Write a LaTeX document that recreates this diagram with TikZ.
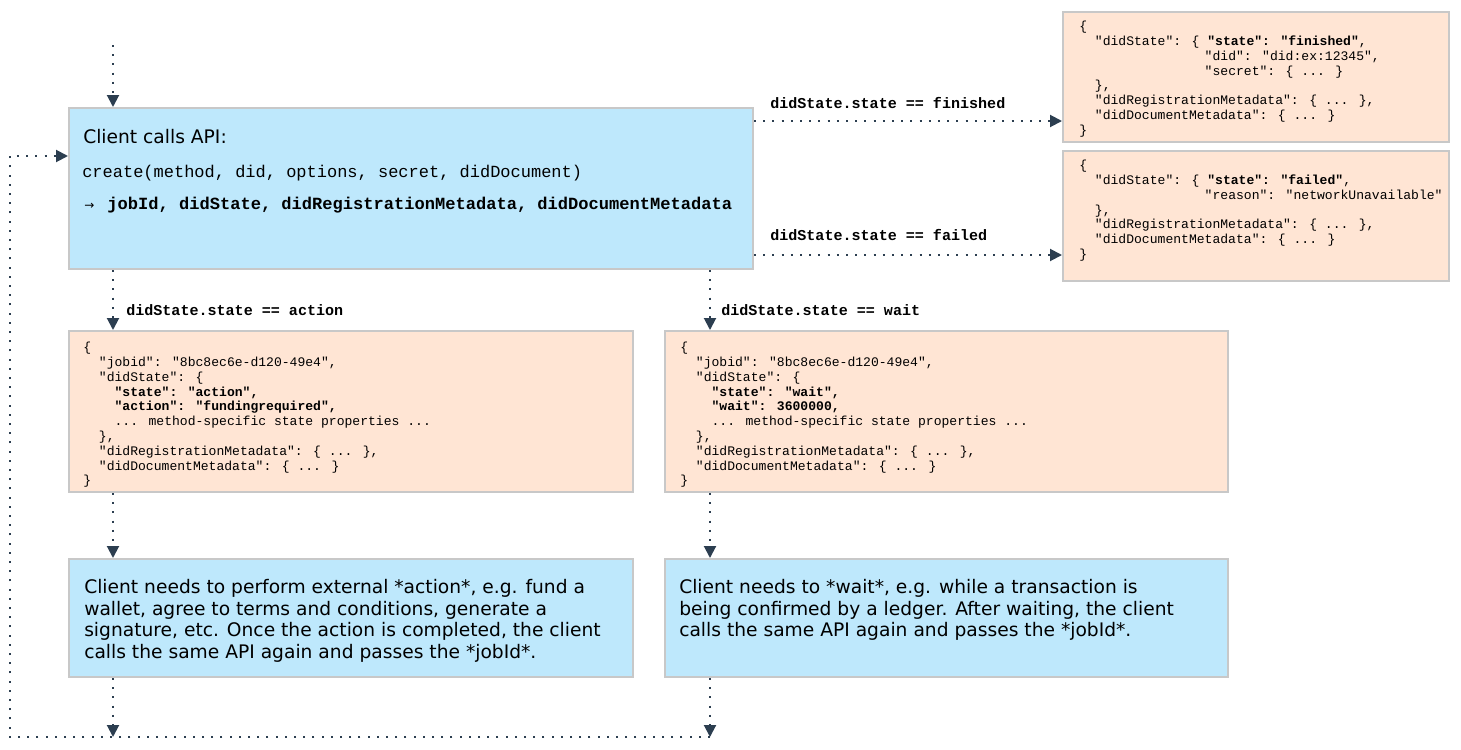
\documentclass[tikz,border=0pt]{standalone}
\usepackage{fontspec}
\setmainfont{DejaVu Sans}
\newfontfamily\mono{Liberation Mono}
\usetikzlibrary{arrows.meta,fit}
\definecolor{bluefill}{HTML}{BEE8FC}
\definecolor{peach}{HTML}{FFE5D4}
\definecolor{edgegray}{HTML}{C8C8C8}
\definecolor{ink}{HTML}{2C3E50}
\newcommand{\jind}{\hphantom{xxxxxxxxxxxxxxxx}}
\begin{document}
\begin{tikzpicture}[x=0.75pt,y=-0.75pt,
  box/.style={draw=edgegray, line width=1.5pt, inner sep=0pt, rectangle},
  bluebox/.style={box, fill=bluefill},
  peachbox/.style={box, fill=peach},
  json/.style={anchor=north west, inner sep=0pt, align=left, font=\mono\fontsize{9.8}{11.1}\selectfont},
  condlabel/.style={anchor=base west, inner sep=0pt, font=\mono\bfseries\fontsize{11.3}{13}\selectfont},
  prose/.style={anchor=north west, inner sep=0pt, align=left, font=\fontsize{14}{16.3}\selectfont},
  dotline/.style={draw=ink, line width=1.5pt, dash pattern=on 1.5pt off 5.4pt},
  flow/.style={dotline, -{Triangle[length=9pt,width=9pt]}}
]
\fill[white] (0,0) rectangle (1461,750);
\useasboundingbox (0,0) rectangle (1461,750);

% boxes
\node[bluebox, fit={(69,108)(753,269)}] (main) {};
\node[peachbox, fit={(1063,12)(1449,142)}] (finished) {};
\node[peachbox, fit={(1063,151)(1449,281)}] (failed) {};
\node[peachbox, fit={(69,331)(633,492)}] (actjson) {};
\node[peachbox, fit={(665,331)(1228,492)}] (waitjson) {};
\node[bluebox, fit={(69,559)(633,677)}] (acttext) {};
\node[bluebox, fit={(665,559)(1228,677)}] (waittext) {};

% main box text
\node[anchor=base west, inner sep=0pt, font=\fontsize{14}{16}\selectfont] (t1) at (83,143) {Client calls API:};
\node[anchor=base west, inner sep=0pt, font=\mono\fontsize{12.75}{14}\selectfont] (t2) at (82,177) {create(method, did, options, secret, didDocument)};
\node[anchor=base west, inner sep=0pt, font=\mono\bfseries\fontsize{12.8}{14}\selectfont] (t3) at (84,209) {{\normalfont\fontsize{9}{10}\selectfont →}\ \,jobId, didState, didRegistrationMetadata, didDocumentMetadata};

% JSON texts
\node[json] (fincode) at (1079,21) {\{\\
\ \ "didState": \{ \textbf{"state": "finished"},\\
\jind"did": "did:ex:12345",\\
\jind"secret": \{ ... \}\\
\ \ \},\\
\ \ "didRegistrationMetadata": \{ ... \},\\
\ \ "didDocumentMetadata": \{ ... \}\\
\}};

\node[json] (failcode) at (1079,160) {\{\\
\ \ "didState": \{ \textbf{"state": "failed"},\\
\jind"reason": "networkUnavailable"\\
\ \ \},\\
\ \ "didRegistrationMetadata": \{ ... \},\\
\ \ "didDocumentMetadata": \{ ... \}\\
\}};

\node[json] (actcode) at (83,342) {\{\\
\ \ "jobid": "8bc8ec6e-d120-49e4",\\
\ \ "didState": \{\\
\ \ \ \ \textbf{"state": "action",}\\
\ \ \ \ \textbf{"action": "fundingrequired",}\\
\ \ \ \ ... method-specific state properties ...\\
\ \ \},\\
\ \ "didRegistrationMetadata": \{ ... \},\\
\ \ "didDocumentMetadata": \{ ... \}\\
\}};

\node[json] (waitcode) at (680,342) {\{\\
\ \ "jobid": "8bc8ec6e-d120-49e4",\\
\ \ "didState": \{\\
\ \ \ \ \textbf{"state": "wait",}\\
\ \ \ \ \textbf{"wait": 3600000,}\\
\ \ \ \ ... method-specific state properties ...\\
\ \ \},\\
\ \ "didRegistrationMetadata": \{ ... \},\\
\ \ "didDocumentMetadata": \{ ... \}\\
\}};

% prose texts
\node[prose] (actprose) at (84,579) {Client needs to perform external *action*, e.g. fund a\\
wallet, agree to terms and conditions, generate a\\
signature, etc. Once the action is completed, the client\\
calls the same API again and passes the *jobId*.};
\node[prose] (waitprose) at (679,579) {Client needs to *wait*, e.g. while a transaction is\\
being confirmed by a ledger. After waiting, the client\\
calls the same API again and passes the *jobId*.};

% labels
\node[condlabel] (lfin) at (770,108) {didState.state == finished};
\node[condlabel] (lfail) at (770,240) {didState.state == failed};
\node[condlabel] (lact) at (126,315) {didState.state == action};
\node[condlabel] (lwait) at (721,315) {didState.state == wait};

% helper coordinates
\coordinate (start) at (113,45);
\coordinate (x113) at (113,0);
\coordinate (x710) at (710,0);
\coordinate (y121) at (0,121);
\coordinate (y255) at (0,255);
\coordinate (y156) at (0,156);
\coordinate (bR) at (710,737);
\coordinate (bL) at (10,737);

% connectors
\draw[flow] (start) -- (main.north -| start);
\draw[flow] (main.east |- y121) -- (finished.west |- y121);
\draw[flow] (main.east |- y255) -- (failed.west |- y255);
\draw[flow] (main.south -| x113) -- (actjson.north -| x113);
\draw[flow] (main.south -| x710) -- (waitjson.north -| x710);
\draw[flow] (actjson.south -| x113) -- (acttext.north -| x113);
\draw[flow] (waitjson.south -| x710) -- (waittext.north -| x710);
\draw[flow] (acttext.south -| x113) -- (bL -| x113);
\draw[flow] (waittext.south -| x710) -- (bR);
\draw[flow] (bR) -- (bL) |- (main.west |- y156);
\end{tikzpicture}
\end{document}
